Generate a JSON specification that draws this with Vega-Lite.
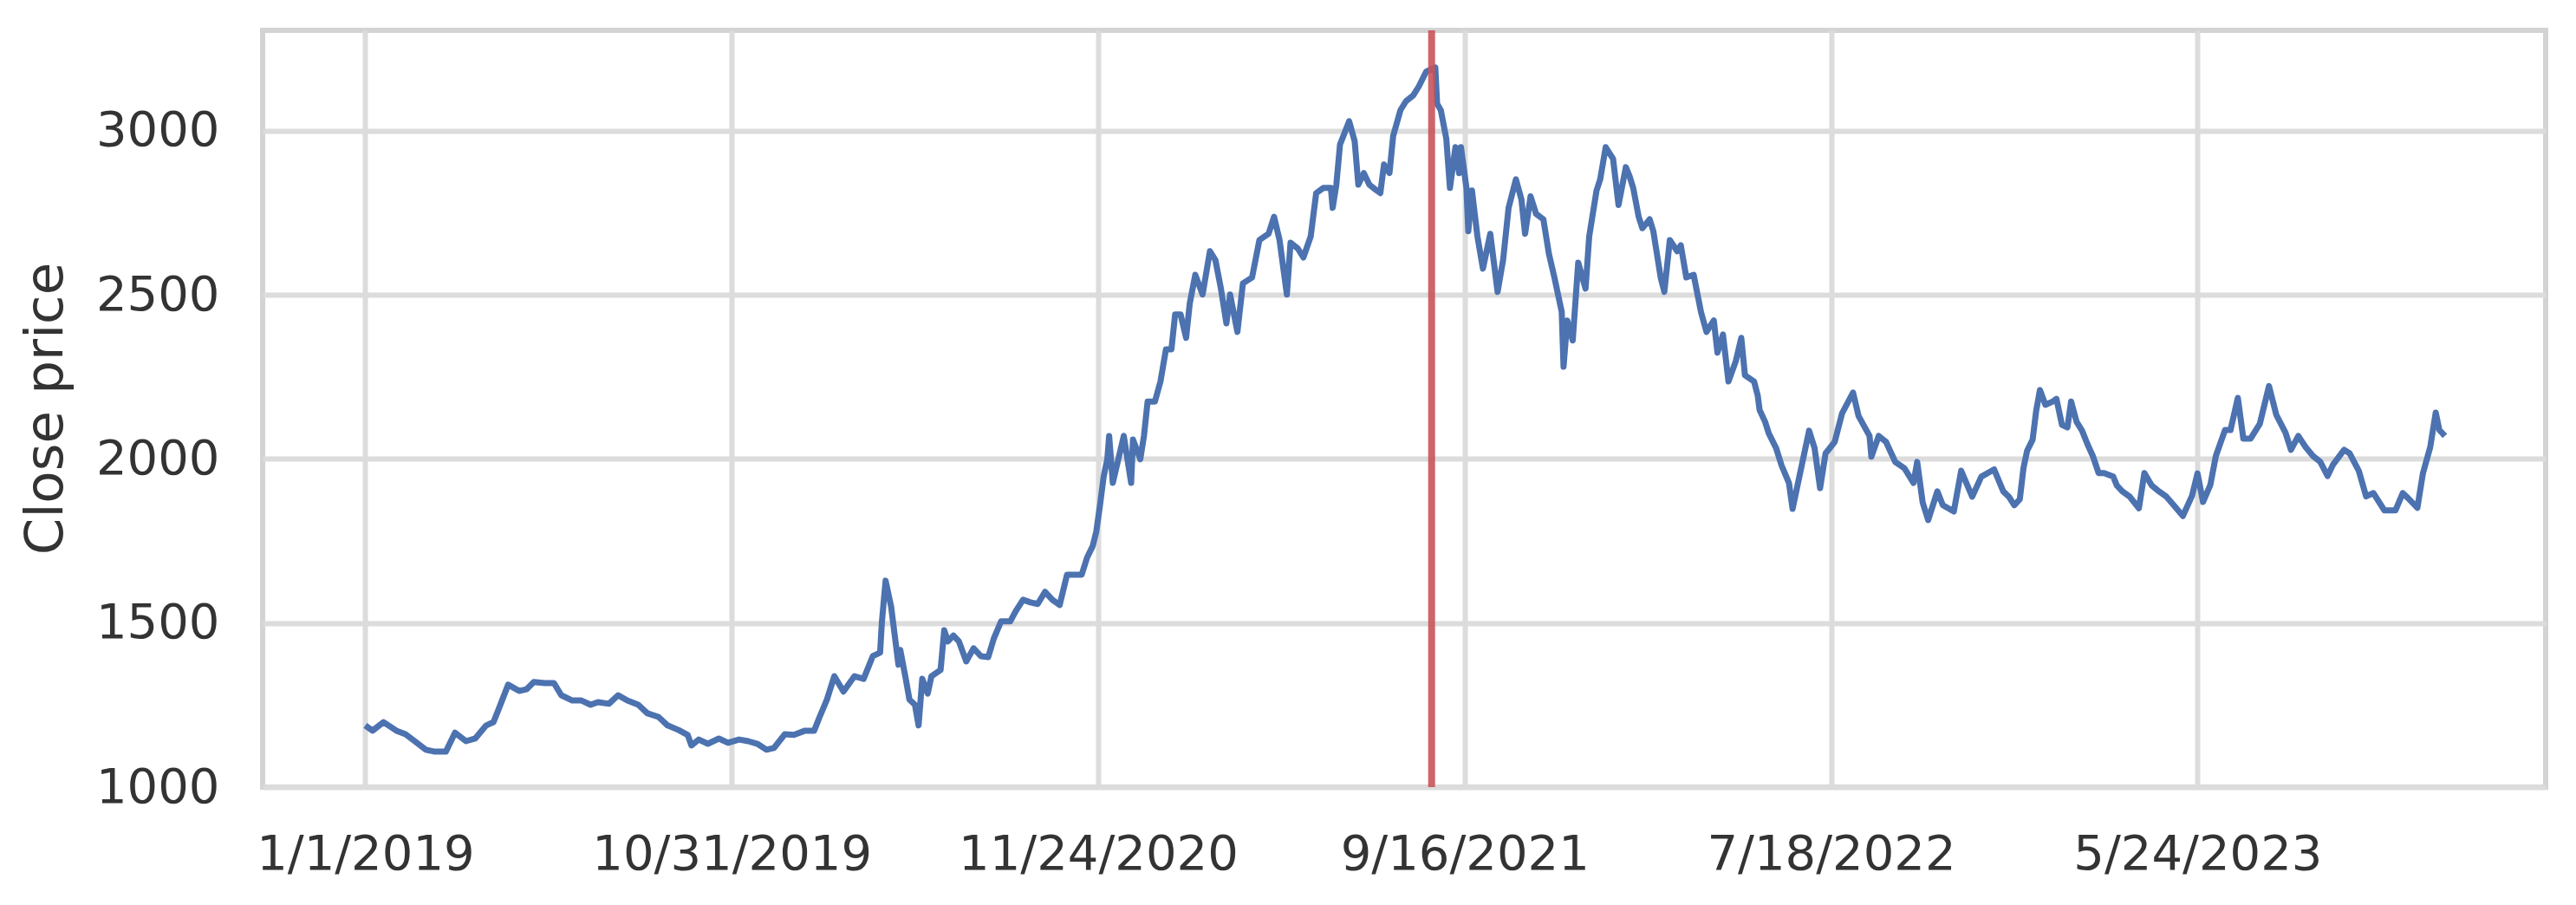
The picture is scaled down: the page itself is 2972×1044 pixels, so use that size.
{
  "$schema": "https://vega.github.io/schema/vega-lite/v6.json",
  "width": 2634,
  "height": 873,
  "autosize": {"type": "none"},
  "padding": {"left": 303, "top": 35, "right": 35, "bottom": 136},
  "background": "white",
  "config": {
    "view": {"stroke": "#d3d3d3", "strokeWidth": 6},
    "axis": {
      "grid": true,
      "gridColor": "#dcdcdc",
      "gridWidth": 6,
      "ticks": false,
      "domain": false,
      "labelFont": "DejaVu Sans",
      "labelFontSize": 56,
      "labelColor": "#333333",
      "labelPadding": 50,
      "labelFlush": false,
      "labelOverlap": false,
      "labelBound": false,
      "labelLimit": 0,
      "titleFont": "DejaVu Sans",
      "titleFontSize": 61,
      "titleFontWeight": "normal",
      "titleColor": "#333333"
    }
  },
  "datasets": {
    "prices": [
      {"i":0,"close":1188},{"i":4,"close":1172},{"i":10,"close":1198},{"i":17,"close":1172},{"i":22,"close":1161},{"i":27,"close":1140},{"i":33,"close":1114},{"i":38,"close":1108},{"i":44,"close":1108},{"i":49,"close":1166},{"i":55,"close":1140},{"i":60,"close":1148},{"i":66,"close":1188},{"i":70,"close":1198},{"i":73,"close":1240},{"i":78,"close":1312},{"i":84,"close":1293},{"i":88,"close":1298},{"i":92,"close":1320},{"i":98,"close":1317},{"i":103,"close":1317},{"i":107,"close":1280},{"i":113,"close":1264},{"i":118,"close":1264},{"i":123,"close":1251},{"i":127,"close":1259},{"i":133,"close":1254},{"i":138,"close":1280},{"i":143,"close":1264},{"i":149,"close":1251},{"i":154,"close":1225},{"i":160,"close":1214},{"i":165,"close":1188},{"i":171,"close":1174},{"i":176,"close":1159},{"i":178,"close":1127},{"i":182,"close":1145},{"i":187,"close":1132},{"i":193,"close":1148},{"i":198,"close":1135},{"i":204,"close":1145},{"i":209,"close":1140},{"i":214,"close":1132},{"i":219,"close":1114},{"i":223,"close":1119},{"i":229,"close":1161},{"i":234,"close":1159},{"i":240,"close":1172},{"i":245,"close":1172},{"i":248,"close":1214},{"i":252,"close":1267},{"i":256,"close":1338},{"i":261,"close":1291},{"i":267,"close":1338},{"i":272,"close":1330},
      {"i":277,"close":1399},{"i":281,"close":1410},{"i":282,"close":1505},{"i":284,"close":1629},{"i":287,"close":1550},{"i":289,"close":1462},{"i":291,"close":1373},{"i":292,"close":1418},{"i":295,"close":1330},{"i":297,"close":1267},{"i":300,"close":1251},{"i":302,"close":1188},{"i":304,"close":1330},{"i":307,"close":1285},{"i":309,"close":1338},{"i":314,"close":1357},{"i":316,"close":1478},{"i":318,"close":1444},{"i":321,"close":1462},{"i":324,"close":1444},{"i":328,"close":1383},{"i":332,"close":1423},{"i":336,"close":1399},{"i":340,"close":1396},{"i":343,"close":1452},{"i":347,"close":1505},{"i":352,"close":1505},{"i":355,"close":1536},{"i":359,"close":1571},{"i":363,"close":1563},{"i":367,"close":1558},{"i":371,"close":1595},{"i":375,"close":1571},{"i":379,"close":1555},{"i":383,"close":1647},{"i":387,"close":1647},{"i":391,"close":1647},{"i":394,"close":1700},{"i":397,"close":1734},{"i":399,"close":1779},{"i":401,"close":1859},{"i":403,"close":1946},{"i":405,"close":1999},{"i":406,"close":2070},{"i":408,"close":1927},{"i":411,"close":1999},{"i":414,"close":2070},{"i":418,"close":1927},{"i":419,"close":2059},{"i":423,"close":1999},{"i":425,"close":2070},{"i":427,"close":2175},{"i":431,"close":2175},{"i":434,"close":2236},{"i":437,"close":2334},{"i":440,"close":2334},{"i":442,"close":2440},{"i":445,"close":2440},{"i":448,"close":2369},{"i":450,"close":2474},{"i":453,"close":2561},{"i":457,"close":2501},{"i":461,"close":2633},{"i":464,"close":2606},{"i":467,"close":2519},{"i":470,"close":2413},{"i":472,"close":2501},{"i":476,"close":2387},{"i":479,"close":2535},{"i":484,"close":2553},{"i":488,"close":2667},{"i":493,"close":2686},{"i":496,"close":2738},{"i":499,"close":2667},{"i":503,"close":2501},{"i":505,"close":2659},{"i":509,"close":2641},{"i":512,"close":2614},{"i":516,"close":2678},{"i":519,"close":2810},{"i":523,"close":2826},{"i":527,"close":2826},{"i":528,"close":2765},{"i":530,"close":2836},{"i":532,"close":2958},{"i":537,"close":3029},{"i":540,"close":2968},{"i":542,"close":2836},{"i":545,"close":2871},{"i":548,"close":2836},{"i":552,"close":2818},{"i":554,"close":2810},{"i":556,"close":2897},{"i":559,"close":2871},{"i":561,"close":2984},{"i":565,"close":3063},{"i":568,"close":3090},{"i":572,"close":3108},{"i":575,"close":3135},{"i":579,"close":3180},{"i":584,"close":3193},{"i":585,"close":3082},{"i":587,"close":3063},{"i":590,"close":2976},{"i":592,"close":2826},{"i":595,"close":2950},{"i":597,"close":2871},{"i":598,"close":2950},{"i":601,"close":2826},{"i":602,"close":2694},{"i":604,"close":2818},{"i":607,"close":2678},{"i":610,"close":2580},{"i":614,"close":2686},{"i":618,"close":2509},{"i":621,"close":2606},{"i":624,"close":2765},{"i":628,"close":2852},{"i":631,"close":2791},{"i":633,"close":2686},{"i":636,"close":2800},{"i":639,"close":2747},{"i":643,"close":2730},{"i":646,"close":2625},{"i":649,"close":2553},{"i":653,"close":2448},{"i":654,"close":2281},{"i":656,"close":2422},{"i":659,"close":2361},{"i":662,"close":2598},{"i":666,"close":2519},{"i":668,"close":2678},{"i":672,"close":2818},{"i":674,"close":2852},{"i":677,"close":2950},{"i":681,"close":2915},{"i":684,"close":2774},{"i":688,"close":2889},{"i":690,"close":2862},{"i":692,"close":2826},{"i":695,"close":2738},{"i":697,"close":2703},{"i":701,"close":2730},{"i":703,"close":2694},{"i":707,"close":2553},{"i":709,"close":2509},{"i":712,"close":2667},{"i":716,"close":2633},{"i":718,"close":2651},{"i":721,"close":2553},{"i":725,"close":2561},{"i":729,"close":2448},{"i":732,"close":2387},{"i":736,"close":2422},{"i":738,"close":2324},{"i":741,"close":2379},{"i":744,"close":2236},{"i":748,"close":2298},{"i":751,"close":2369},{"i":753,"close":2255},{"i":758,"close":2236},{"i":760,"close":2192},{"i":761,"close":2149},{"i":764,"close":2113},{"i":766,"close":2078},{"i":770,"close":2033},{"i":773,"close":1980},{"i":777,"close":1927},{"i":779,"close":1848},{"i":783,"close":1954},{"i":788,"close":2086},{"i":791,"close":2033},{"i":794,"close":1911},{"i":797,"close":2017},{"i":802,"close":2052},{"i":806,"close":2139},{"i":812,"close":2202},{"i":815,"close":2131},{"i":821,"close":2070},{"i":822,"close":2007},{"i":826,"close":2070},{"i":830,"close":2052},{"i":835,"close":1991},{"i":840,"close":1972},{"i":845,"close":1927},{"i":847,"close":1991},{"i":850,"close":1867},{"i":853,"close":1814},{"i":858,"close":1901},{"i":861,"close":1859},{"i":867,"close":1840},{"i":871,"close":1964},{"i":877,"close":1885},{"i":882,"close":1946},{"i":889,"close":1968},{"i":894,"close":1901},{"i":897,"close":1885},{"i":900,"close":1859},{"i":903,"close":1877},{"i":905,"close":1972},{"i":907,"close":2025},{"i":910,"close":2059},{"i":912,"close":2149},{"i":914,"close":2210},{"i":917,"close":2165},{"i":921,"close":2175},{"i":923,"close":2183},{"i":926,"close":2104},{"i":929,"close":2096},{"i":931,"close":2175},{"i":934,"close":2113},{"i":937,"close":2086},{"i":940,"close":2044},{"i":943,"close":2007},{"i":946,"close":1957},{"i":949,"close":1957},{"i":954,"close":1946},{"i":956,"close":1919},{"i":959,"close":1901},{"i":963,"close":1885},{"i":968,"close":1850},{"i":971,"close":1957},{"i":975,"close":1919},{"i":979,"close":1901},{"i":983,"close":1885},{"i":987,"close":1859},{"i":992,"close":1826},{"i":997,"close":1888},{"i":1000,"close":1956},{"i":1003,"close":1869},{"i":1007,"close":1921},{"i":1010,"close":2009},{"i":1015,"close":2088},{"i":1018,"close":2088},{"i":1022,"close":2186},{"i":1025,"close":2062},{"i":1029,"close":2062},{"i":1034,"close":2107},{"i":1039,"close":2222},{"i":1043,"close":2134},{"i":1048,"close":2080},{"i":1051,"close":2028},{"i":1055,"close":2070},{"i":1059,"close":2036},{"i":1063,"close":2009},{"i":1067,"close":1991},{"i":1071,"close":1948},{"i":1074,"close":1983},{"i":1080,"close":2028},{"i":1083,"close":2017},{"i":1088,"close":1964},{"i":1092,"close":1886},{"i":1096,"close":1896},{"i":1102,"close":1843},{"i":1108,"close":1843},{"i":1112,"close":1896},{"i":1115,"close":1880},{"i":1120,"close":1851},{"i":1123,"close":1956},{"i":1127,"close":2036},{"i":1130,"close":2141},{"i":1132,"close":2088},{"i":1135,"close":2070}
    ],
    "split": [{"i": 582}]
  },
  "layer": [
    {
      "data": {"name": "prices"},
      "mark": {"type": "line", "color": "#4c72b0", "strokeWidth": 7, "strokeJoin": "round"},
      "encoding": {
        "x": {
          "field": "i",
          "type": "quantitative",
          "scale": {"domain": [-56, 1190], "nice": false, "zero": false},
          "axis": {
            "title": null,
            "values": [0, 200, 400, 600, 800, 1000],
            "labelExpr": "datum.value == 0 ? '1/1/2019' : datum.value == 200 ? '10/31/2019' : datum.value == 400 ? '11/24/2020' : datum.value == 600 ? '9/16/2021' : datum.value == 800 ? '7/18/2022' : '5/24/2023'"
          }
        },
        "y": {
          "field": "close",
          "type": "quantitative",
          "scale": {"domain": [1000, 3306], "nice": false, "zero": false},
          "axis": {
            "title": "Close price",
            "format": "d",
            "values": [1000, 1500, 2000, 2500, 3000],
            "titleX": -232,
            "titleY": 436,
            "titleBaseline": "alphabetic",
            "titleAngle": -90,
            "titleAlign": "center"
          }
        }
      }
    },
    {
      "data": {"name": "split"},
      "mark": {"type": "rule", "color": "#c9545a", "strokeWidth": 8, "opacity": 0.9},
      "encoding": {
        "x": {"field": "i", "type": "quantitative"}
      }
    }
  ]
}
